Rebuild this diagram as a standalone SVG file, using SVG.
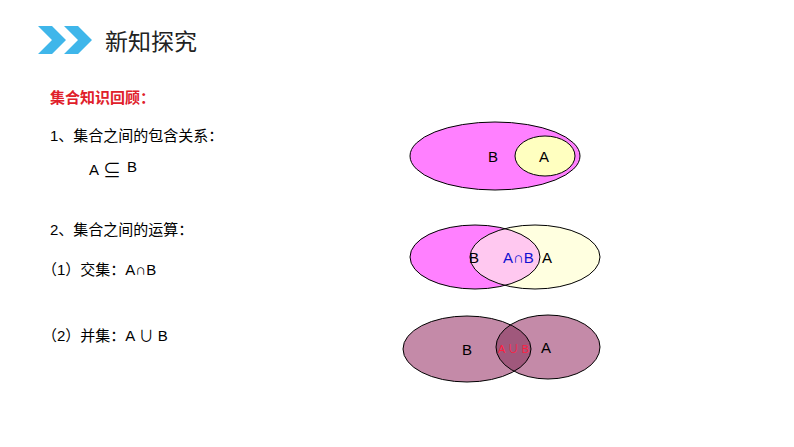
<svg xmlns="http://www.w3.org/2000/svg" width="794" height="447" viewBox="0 0 794 447">
<style>
text{font-family:"Liberation Sans","Noto Sans CJK SC",sans-serif;font-size:15px;fill:#000}
.e{stroke:#000;stroke-width:1}
</style>
<rect width="794" height="447" fill="#fff"/>
<g id="header">
<polygon points="38,26 52,26 66,40 52,54 38,54 52,40" fill="#3fb6ea"/>
<polygon points="64,26 78,26 92,40 78,54 64,54 78,40" fill="#3fb6ea"/>
<text x="105" y="50" style="font-size:23px;fill:#222">新知探究</text>
</g>
<g id="texts">
<text x="50" y="103" style="fill:#e0202a;font-weight:bold;font-size:15px">集合知识回顾：</text>
<text x="50" y="141">1、集合之间的包含关系：</text>
<text x="89" y="175">A</text><text x="103" y="177" style="font-size:18px">⊆</text><text x="127" y="172">B</text>
<text x="50" y="235">2、集合之间的运算：</text>
<text x="42" y="275">（1）交集：A∩B</text>
<text x="42" y="341">（2）并集：A ∪ B</text>
</g>
<g id="subset">
<ellipse class="e" cx="495" cy="156" rx="85" ry="34" fill="#ff80ff"/>
<ellipse class="e" cx="545" cy="156" rx="30" ry="20" fill="#ffffc0"/>
<text x="488" y="162">B</text><text x="539" y="162">A</text>
</g>
<g id="intersection">
<ellipse cx="475" cy="257" rx="65" ry="32" fill="#ff80ff"/>
<ellipse cx="535" cy="257" rx="65" ry="32" fill="#ffffe0"/>
<clipPath id="cb"><ellipse cx="475" cy="257" rx="65" ry="32"/></clipPath>
<ellipse cx="535" cy="257" rx="65" ry="32" fill="#ffc8f0" clip-path="url(#cb)"/>
<ellipse class="e" cx="475" cy="257" rx="65" ry="32" fill="none"/>
<ellipse class="e" cx="535" cy="257" rx="65" ry="32" fill="none"/>
<text x="469" y="263">B</text>
<text x="503" y="263" style="fill:#1010d0">A∩B</text>
<text x="542" y="263">A</text>
</g>
<g id="union">
<ellipse cx="467" cy="349" rx="64" ry="33" fill="#c48aa8"/>
<ellipse cx="548" cy="347" rx="52" ry="32" fill="#c48aa8"/>
<clipPath id="cb2"><ellipse cx="467" cy="349" rx="64" ry="33"/></clipPath>
<ellipse cx="548" cy="347" rx="52" ry="32" fill="#a0587c" clip-path="url(#cb2)"/>
<ellipse class="e" cx="467" cy="349" rx="64" ry="33" fill="none"/>
<ellipse class="e" cx="548" cy="347" rx="52" ry="32" fill="none"/>
<text x="462" y="355">B</text>
<text x="498" y="353" style="fill:#ff2040;font-size:11px">A ∪ B</text>
<text x="541" y="353">A</text>
</g>
</svg>
